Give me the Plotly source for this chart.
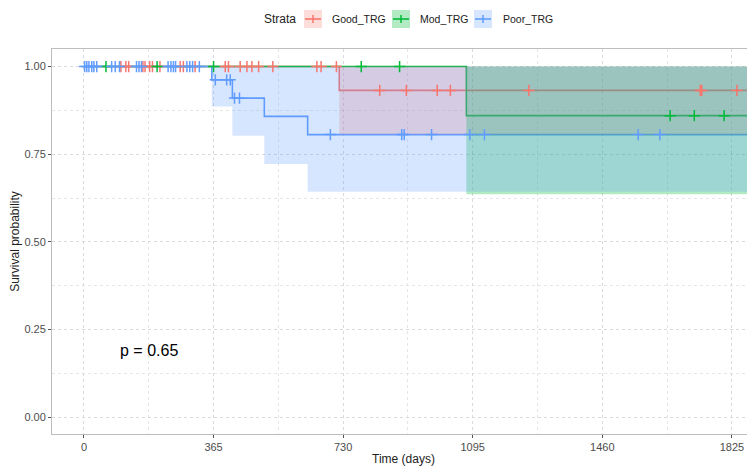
import plotly.graph_objects as go

# ---------------- data ----------------
strata = ["Good_TRG", "Mod_TRG", "Poor_TRG"]

# Good_TRG
good_event_t = [719]
good_surv = [0.932]
good_lower = [0.806]
good_upper = [1.0]
good_censor_t = [104, 118, 126, 166, 172, 185, 193, 214, 271, 280, 313,
                 398, 407, 440, 459, 473, 492, 532, 656, 668, 711,
                 833, 908, 995, 1032, 1253, 1736, 1740, 1839]
good_end = 1900

# Mod_TRG
mod_event_t = [1077]
mod_surv = [0.860]
mod_lower = [0.636]
mod_upper = [1.0]
mod_censor_t = [62, 206, 365, 781, 889, 1651, 1719, 1803]
mod_end = 1900

# Poor_TRG
poor_event_t = [360, 418, 508, 630]
poor_surv = [0.962, 0.910, 0.858, 0.806]
poor_lower = [0.886, 0.803, 0.722, 0.643]
poor_upper = [1.0, 1.0, 1.0, 1.0]
poor_censor_t = [2, 8, 14, 22, 28, 36, 78, 88, 100, 148, 155, 162,
                 237, 245, 252, 258, 290, 298, 306, 325,
                 370, 402, 412, 424, 438,
                 694, 895, 902, 979, 1087, 1128, 1561, 1622]
poor_end = 1900

x_ticks = [0, 365, 730, 1095, 1460, 1825]
y_ticks = [0.0, 0.25, 0.50, 0.75, 1.00]
y_ticklabels = ["0.00", "0.25", "0.50", "0.75", "1.00"]
p_value_label = "p = 0.65"
legend_title = "Strata"

# ---------------- styling ----------------
line_colors = ["#F8766D", "#00BA38", "#619CFF"]
fill_colors = ["rgba(248,118,109,0.25)", "rgba(0,186,56,0.30)", "rgba(97,156,255,0.25)"]
FONT = "Liberation Sans, Arial, sans-serif"

# page has an 8px body margin: lay the figure out so the panel lands where the reference has it
W, H = 747, 458
ML, MR, MT, MB = 44, 0, 41, 32
PW, PH = W - ML - MR, H - MT - MB
OFF = 8


def px_x(xw):  # window pixel -> paper x
    return (xw - OFF - ML) / PW


def px_y(yw):  # window pixel -> paper y
    return (H - MB - (yw - OFF)) / PH


groups = [
    (good_event_t, good_surv, good_lower, good_upper, good_censor_t, good_end),
    (mod_event_t, mod_surv, mod_lower, mod_upper, mod_censor_t, mod_end),
    (poor_event_t, poor_surv, poor_lower, poor_upper, poor_censor_t, poor_end),
]


def step_xy(ev_t, surv, end):
    return [0] + list(ev_t) + [end], [1.0] + list(surv) + [surv[-1]]


def ribbon_xy(ev_t, lo, up, end):
    bounds = list(ev_t) + [end]
    xs, ys = [], []
    for i in range(len(ev_t)):
        xs += [bounds[i], bounds[i + 1]]
        ys += [up[i], up[i]]
    for i in reversed(range(len(ev_t))):
        xs += [bounds[i + 1], bounds[i]]
        ys += [lo[i], lo[i]]
    return xs, ys


def surv_at(t, ev_t, surv):
    s = 1.0
    for te, sv in zip(ev_t, surv):
        if te <= t:
            s = sv
    return s


fig = go.Figure()

# survival step lines
for (ev, sv, lo, up, ct, end), col, name in zip(groups, line_colors, strata):
    x, y = step_xy(ev, sv, end)
    fig.add_trace(go.Scatter(x=x, y=y, mode="lines", name=name,
                             line=dict(color=col, width=1.6, shape="hv"),
                             showlegend=False, hoverinfo="skip"))

# confidence ribbons (drawn over the lines, as in survminer)
for (ev, sv, lo, up, ct, end), fc in zip(groups, fill_colors):
    x, y = ribbon_xy(ev, lo, up, end)
    fig.add_trace(go.Scatter(x=x, y=y, mode="lines", fill="toself", fillcolor=fc,
                             line=dict(width=0), showlegend=False, hoverinfo="skip"))

# censor marks
for (ev, sv, lo, up, ct, end), col in zip(groups, line_colors):
    fig.add_trace(go.Scatter(x=ct, y=[surv_at(t, ev, sv) for t in ct], mode="markers",
                             marker=dict(symbol="cross-thin", size=8, line=dict(color=col, width=1.5)),
                             showlegend=False, hoverinfo="skip"))

fig.add_annotation(x=96, y=0.19, xref="x", yref="y", text=p_value_label, showarrow=False,
                   xanchor="left", yanchor="middle", font=dict(size=16, color="black", family=FONT))

# ---------------- legend (top, ggplot style keys) ----------------
leg_y = 19
fig.add_annotation(x=px_x(262), y=px_y(leg_y), xref="paper", yref="paper", text=legend_title,
                   showarrow=False, xanchor="left", yanchor="middle",
                   font=dict(size=12, color="#222222", family=FONT))
key_left = [304, 392, 474]
text_left = [330, 418, 501]
for name, col, fc, kl, tl in zip(strata, line_colors, fill_colors, key_left, text_left):
    fig.add_shape(type="rect", xref="paper", yref="paper",
                  x0=px_x(kl), x1=px_x(kl + 18), y0=px_y(leg_y + 9), y1=px_y(leg_y - 9),
                  fillcolor=fc, line=dict(width=0))
    fig.add_shape(type="line", xref="paper", yref="paper",
                  x0=px_x(kl + 1), x1=px_x(kl + 17), y0=px_y(leg_y), y1=px_y(leg_y),
                  line=dict(color=col, width=1.6))
    fig.add_shape(type="line", xref="paper", yref="paper",
                  x0=px_x(kl + 9), x1=px_x(kl + 9), y0=px_y(leg_y - 4), y1=px_y(leg_y + 4),
                  line=dict(color=col, width=1.5))
    fig.add_annotation(x=px_x(tl), y=px_y(leg_y), xref="paper", yref="paper", text=name,
                       showarrow=False, xanchor="left", yanchor="middle",
                       font=dict(size=10.5, color="#222222", family=FONT))

x_minor = [(a + b) / 2 for a, b in zip(x_ticks[:-1], x_ticks[1:])]
y_minor = [(a + b) / 2 for a, b in zip(y_ticks[:-1], y_ticks[1:])]

fig.update_layout(
    width=W, height=H,
    margin=dict(l=ML, r=MR, t=MT, b=MB),
    paper_bgcolor="white", plot_bgcolor="white",
    font=dict(family=FONT, color="#4D4D4D"),
    showlegend=False,
    xaxis=dict(range=[-90, 1890], tickmode="array", tickvals=x_ticks,
               ticks="outside", ticklen=3, tickcolor="#555555", tickfont=dict(size=11, color="#4D4D4D"),
               showgrid=True, gridcolor="#DADADA", griddash="dot", gridwidth=1,
               minor=dict(tickmode="array", tickvals=x_minor, showgrid=True, gridcolor="#E6E6E6",
                          griddash="dot", ticks=""),
               showline=True, linecolor="#BDBDBD", mirror=True, zeroline=False,
               title=dict(text="Time (days)", font=dict(size=12, color="#222222"), standoff=3),
               automargin=False),
    yaxis=dict(range=[-0.0475, 1.05], tickmode="array", tickvals=y_ticks, ticktext=y_ticklabels,
               ticks="outside", ticklen=3, tickcolor="#555555", tickfont=dict(size=11, color="#4D4D4D"),
               showgrid=True, gridcolor="#DADADA", griddash="dot", gridwidth=1,
               minor=dict(tickmode="array", tickvals=y_minor, showgrid=True, gridcolor="#E6E6E6",
                          griddash="dot", ticks=""),
               showline=True, linecolor="#BDBDBD", mirror=False, zeroline=False,
               title=dict(text="Survival probability", font=dict(size=12, color="#222222"), standoff=9),
               automargin=False),
)

fig.write_html("out.html")
